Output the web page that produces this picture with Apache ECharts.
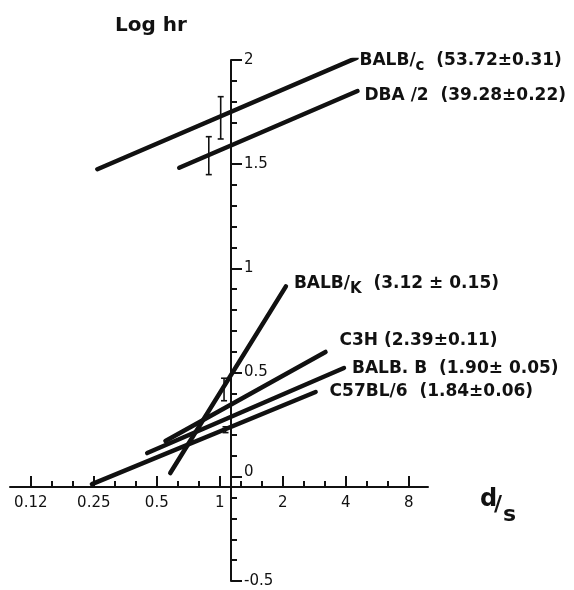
<!DOCTYPE html>
<html>
<head>
<meta charset="utf-8">
<script src="https://cdn.jsdelivr.net/npm/echarts@6/dist/echarts.min.js"></script>
<style>
  html, body { margin: 0; padding: 0; background: #fff; }
  #chart { width: 574px; height: 590px; }
</style>
</head>
<body>
<div id="chart"></div>
<script>
// regression lines, x is d/s (drawn on a log2 scale), y is log hr
const strainLabels = [
  'BALB/{s|c}  (53.72±0.31)',
  'DBA /2  (39.28±0.22)',
  'BALB/{s|K}  (3.12 ± 0.15)',
  'C3H (2.39±0.11)',
  'BALB. B  (1.90± 0.05)',
  'C57BL/6  (1.84±0.06)'
];
const dsStart = [0.26, 0.64, 0.58, 0.55, 0.45, 0.245];
const dsEnd = [4.5, 4.55, 2.07, 3.2, 3.92, 2.87];
const logHrStart = [1.476, 1.483, 0.018, 0.172, 0.114, -0.035];
const logHrEnd = [2.01, 1.851, 0.914, 0.599, 0.522, 0.407];

// error bars
const errDs = [1.01, 0.886, 1.048, 1.065];
const errLow = [1.621, 1.45, 0.365, 0.212];
const errHigh = [1.824, 1.632, 0.473, 0.24];

// x ticks
const xTickDs = [0.125, 0.25, 0.5, 1, 2, 4, 8];
const xTickLabels = ['0.12', '0.25', '0.5', '1', '2', '4', '8'];

const FONT = 'DejaVu Sans';
const INK = '#111';

const xTickPos = xTickDs.map(v => Math.log2(v));
const xMinorPos = [];
for (let i = 0; i < xTickPos.length - 1; i++) {
  xMinorPos.push(xTickPos[i] + 1 / 3, xTickPos[i] + 2 / 3);
}

// label nudges, px from the line end
const labelOffsets = [[3, 3], [7, 5], [8, -3], [14, -11], [8, 1], [14, 0]];

const chart = echarts.init(document.getElementById('chart'), null, { renderer: 'canvas' });

const lineSeries = strainLabels.map((txt, i) => ({
  type: 'line',
  name: txt,
  data: [
    [Math.log2(dsStart[i]), logHrStart[i]],
    [Math.log2(dsEnd[i]), logHrEnd[i]]
  ],
  symbol: 'none',
  silent: true,
  lineStyle: { color: INK, width: 4.5, cap: 'round' },
  endLabel: {
    show: true,
    distance: 0,
    offset: labelOffsets[i],
    formatter: () => txt,
    color: INK,
    fontFamily: FONT,
    fontWeight: 'bold',
    fontSize: 17,
    rich: {
      s: { fontFamily: FONT, fontWeight: 'bold', fontSize: 15, color: INK, lineHeight: 26, verticalAlign: 'bottom' }
    }
  }
}));

const errSeries = {
  type: 'custom',
  silent: true,
  data: errDs.map((d, i) => [Math.log2(d), errLow[i], errHigh[i]]),
  renderItem: function (params, api) {
    const top = api.coord([api.value(0), api.value(2)]);
    const bot = api.coord([api.value(0), api.value(1)]);
    const w = 3;
    const style = { stroke: INK, lineWidth: 1.6 };
    return {
      type: 'group',
      children: [
        { type: 'line', shape: { x1: top[0], y1: top[1], x2: bot[0], y2: bot[1] }, style: style },
        { type: 'line', shape: { x1: top[0] - w, y1: top[1], x2: top[0] + w, y2: top[1] }, style: style },
        { type: 'line', shape: { x1: bot[0] - w, y1: bot[1], x2: bot[0] + w, y2: bot[1] }, style: style }
      ]
    };
  }
};

chart.setOption({
  animation: false,
  backgroundColor: '#fff',
  textStyle: { fontFamily: FONT, color: INK },
  grid: { left: 10, top: 60, width: 418, height: 521 },
  xAxis: [
    {
      type: 'value',
      min: -3.33,
      max: 3.305,
      position: 'bottom',
      offset: -94,
      axisLine: { onZero: false, lineStyle: { color: INK, width: 2 } },
      axisTick: { customValues: xTickPos, inside: true, length: 11, lineStyle: { color: INK, width: 2 } },
      axisLabel: {
        customValues: xTickPos,
        margin: 9,
        fontSize: 15,
        fontFamily: FONT,
        color: INK,
        formatter: v => xTickLabels[xTickPos.indexOf(v)]
      },
      splitLine: { show: false }
    },
    {
      type: 'value',
      min: -3.33,
      max: 3.305,
      position: 'bottom',
      offset: -94,
      axisLine: { show: false, onZero: false },
      axisTick: { customValues: xMinorPos, inside: true, length: 6, lineStyle: { color: INK, width: 2 } },
      axisLabel: { show: false },
      splitLine: { show: false }
    }
  ],
  yAxis: {
    type: 'value',
    min: -0.5,
    max: 2,
    interval: 0.5,
    position: 'left',
    offset: -221,
    axisLine: { onZero: false, lineStyle: { color: INK, width: 2 } },
    axisTick: { inside: true, length: 11, lineStyle: { color: INK, width: 2 } },
    minorTick: { show: true, splitNumber: 5, length: 6, lineStyle: { color: INK, width: 2 } },
    axisLabel: {
      inside: true,
      margin: 13,
      fontSize: 15,
      fontFamily: FONT,
      color: INK,
      // the zero label sits a little above its tick in the original
      formatter: v => (v === 0 ? '{z|0}' : String(v)),
      rich: { z: { fontSize: 15, fontFamily: FONT, color: INK, padding: [0, 0, 10, 0] } }
    },
    splitLine: { show: false },
    minorSplitLine: { show: false }
  },
  graphic: [
    { type: 'text', left: 115, top: 16, style: { text: 'Log hr', font: 'bold 20px "DejaVu Sans"', fill: INK } },
    { type: 'text', left: 480, top: 488, style: { text: 'd', font: 'bold 24px "DejaVu Sans"', fill: INK } },
    { type: 'text', left: 494, top: 494, style: { text: '/', font: 'bold 22px "DejaVu Sans"', fill: INK } },
    { type: 'text', left: 503, top: 504, style: { text: 's', font: 'bold 22px "DejaVu Sans"', fill: INK } }
  ],
  series: lineSeries.concat([errSeries])
});
</script>
</body>
</html>
